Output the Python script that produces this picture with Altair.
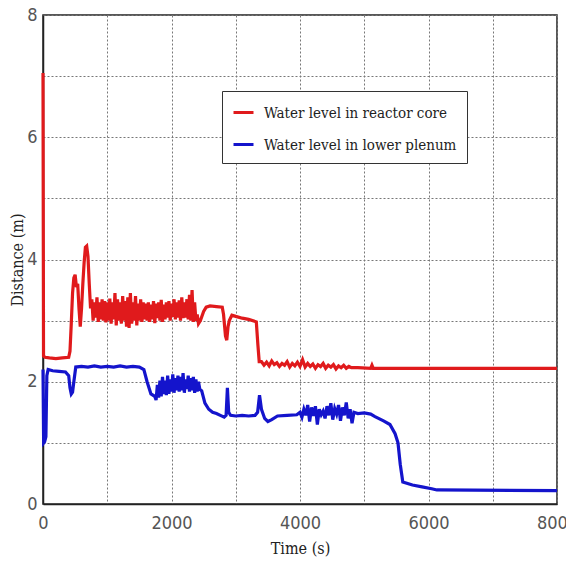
import altair as alt
import pandas as pd

# Water level in reactor core
core_time = [0, 8, 30, 100, 200, 300, 400, 420, 440, 460, 480, 500, 520, 540, 560, 580,
             600, 620, 640, 660, 680, 700, 720, 740,
             760, 780, 800, 820, 840, 860, 880, 900, 920, 940, 960, 980, 1000,
             1020, 1040, 1060, 1080, 1100, 1120, 1140, 1160, 1180, 1200, 1220, 1240, 1260, 1280, 1300,
             1320, 1340, 1360, 1380, 1400, 1420, 1440, 1460, 1480, 1500, 1520, 1540, 1560, 1580, 1600,
             1620, 1640, 1660, 1680, 1700, 1720, 1740, 1760, 1780, 1800, 1820, 1840, 1860, 1880, 1900,
             1920, 1940, 1960, 1980, 2000, 2020, 2040, 2060, 2080, 2100, 2120, 2140, 2160, 2180, 2200,
             2220, 2240, 2260, 2280, 2300, 2320, 2340, 2360, 2380, 2400,
             2420, 2450, 2500, 2540, 2600, 2700, 2790, 2810, 2840, 2860, 2880, 2900, 2940, 3000,
             3100, 3200, 3320, 3345, 3365,
             3400, 3440, 3480, 3520, 3560, 3600, 3640, 3680, 3720, 3760, 3800, 3840, 3880, 3920, 3960, 4000,
             4040, 4080, 4120, 4160, 4200, 4240, 4280, 4320, 4360, 4400, 4440, 4480, 4520, 4560, 4600,
             4640, 4680, 4720, 4760, 4800,
             4900, 5100, 5120, 5140, 8000]
core_level = [7.05, 2.42, 2.4, 2.39, 2.38, 2.39, 2.4, 2.5, 2.95, 3.45, 3.7, 3.75, 3.55, 3.6, 3.2, 2.9,
              3.2, 3.6, 3.95, 4.2, 4.22, 4.05, 3.6, 3.2,
              3.35, 3.0, 3.3, 3.05, 3.38, 2.98, 3.3, 3.02, 3.35, 3.0, 3.32, 2.97, 3.3,
              3.0, 3.36, 2.95, 3.3, 3.02, 3.45, 2.92, 3.35, 3.0, 3.3, 2.95, 3.4, 3.0, 3.32, 2.9,
              3.38, 2.88, 3.45, 2.95, 3.3, 3.0, 3.4, 2.92, 3.28, 3.0, 3.35, 2.98, 3.3, 3.02, 3.28,
              3.0, 3.3, 2.98, 3.26, 3.02, 3.32, 2.96, 3.28, 3.04, 3.3, 3.0, 3.34, 2.98, 3.26, 3.02,
              3.3, 3.05, 3.32, 3.0, 3.28, 3.06, 3.35, 3.02, 3.3, 3.05, 3.33, 3.0, 3.38, 3.04, 3.3,
              3.05, 3.35, 3.02, 3.42, 3.0, 3.5, 2.98, 3.3, 3.0, 3.1,
              2.95, 3.0, 3.15, 3.22, 3.24, 3.23, 3.22, 3.1, 2.75, 2.68, 2.9, 3.0, 3.09, 3.07,
              3.04, 3.02, 2.98, 2.6, 2.33,
              2.33, 2.27, 2.32, 2.26, 2.34, 2.28, 2.31, 2.25, 2.3, 2.27, 2.33, 2.24, 2.3, 2.26, 2.32, 2.25,
              2.36, 2.24, 2.3, 2.25, 2.29, 2.22, 2.28, 2.25, 2.3, 2.22, 2.27, 2.24, 2.28, 2.21, 2.26,
              2.23, 2.27, 2.22, 2.25, 2.23,
              2.23, 2.22, 2.27, 2.22, 2.22]

# Water level in lower plenum
plenum_time = [0, 10, 25, 45, 60, 80, 150, 250, 350, 400, 420, 440, 460, 480, 510, 600, 700, 800,
               900, 1000, 1100, 1200, 1300, 1400, 1500, 1570, 1620, 1680, 1740,
               1760, 1780, 1800, 1820, 1840, 1860, 1880, 1900, 1920, 1940, 1960, 1980, 2000, 2020,
               2040, 2060, 2080, 2100,
               2120, 2140, 2160, 2180, 2200, 2220, 2240, 2260, 2280, 2300, 2320, 2340, 2360, 2380,
               2400, 2420, 2440,
               2470, 2520, 2580, 2640, 2700, 2760, 2820, 2850, 2870, 2890, 2920, 3000, 3100, 3200,
               3300, 3340, 3370, 3400, 3450, 3500, 3560, 3650, 3800, 3950,
               4000, 4030, 4060, 4090, 4120, 4150, 4180, 4210, 4240, 4270, 4300, 4330, 4360, 4390,
               4420, 4450, 4480, 4510, 4540, 4570, 4600, 4630, 4660, 4690, 4720, 4750, 4780, 4810, 4840,
               4900, 5000, 5100, 5167, 5300, 5400, 5480, 5525, 5560, 5600, 5750, 5900, 6050, 6130, 8000]
plenum_level = [2.2, 1.0, 1.02, 1.1, 2.1, 2.2, 2.18, 2.17, 2.16, 2.1, 1.9, 1.8, 1.83, 2.0, 2.24, 2.25,
                2.24, 2.26, 2.24, 2.25, 2.24, 2.26, 2.24, 2.25, 2.24, 2.2, 2.0, 1.8, 1.76,
                1.7, 1.95, 1.74, 2.02, 1.76, 2.08, 1.8, 2.02, 1.78, 2.1, 1.8, 2.04, 1.84, 2.12,
                1.82, 2.06, 1.86, 2.1,
                1.84, 2.08, 1.86, 2.14, 1.82, 2.04, 1.88, 2.1, 1.84, 2.06, 1.86, 2.08, 1.82, 2.04,
                1.84, 2.0, 1.88,
                1.85, 1.65, 1.55, 1.5, 1.48, 1.45, 1.42, 1.45, 1.9, 1.5, 1.45, 1.44, 1.45, 1.44,
                1.45, 1.5, 1.78, 1.55, 1.4, 1.35, 1.38, 1.44, 1.45, 1.46,
                1.5, 1.42, 1.55, 1.45, 1.62, 1.35, 1.58, 1.44, 1.6, 1.3, 1.55, 1.46, 1.52, 1.4,
                1.6, 1.45, 1.65, 1.38, 1.56, 1.47, 1.62, 1.36, 1.58, 1.45, 1.66, 1.4, 1.55, 1.32, 1.5,
                1.48, 1.49, 1.47, 1.43, 1.36, 1.3, 1.15, 1.0, 0.65, 0.36, 0.31, 0.28, 0.25, 0.23, 0.22]

series_names = ["Water level in reactor core", "Water level in lower plenum"]
series_colors = ["#e01a1c", "#1414cc"]

x_ticks = [0, 1000, 2000, 3000, 4000, 5000, 6000, 7000, 8000]
y_ticks = [0, 1, 2, 3, 4, 5, 6, 7, 8]

rows = []
for i, (t, v) in enumerate(zip(core_time, core_level)):
    rows.append({"Time": t, "Level": v, "Series": series_names[0], "idx": i})
for i, (t, v) in enumerate(zip(plenum_time, plenum_level)):
    rows.append({"Time": t, "Level": v, "Series": series_names[1], "idx": i})
df = pd.DataFrame(rows)

label_font = "Liberation Sans Narrow, DejaVu Sans Condensed, Liberation Sans, sans-serif"
title_font = "DejaVu Serif Condensed, DejaVu Serif, serif"

chart = alt.Chart(df).mark_line(strokeWidth=3.2).encode(
    x=alt.X("Time:Q", scale=alt.Scale(domain=[0, 8000], nice=False),
            axis=alt.Axis(title="Time (s)", values=x_ticks,
                          labelExpr="datum.value % 2000 == 0 ? datum.label : ''",
                          format="d", ticks=False, labelPadding=10, titlePadding=8,
                          labelFlush=False, labelOverlap=False)),
    y=alt.Y("Level:Q", scale=alt.Scale(domain=[0, 8], nice=False),
            axis=alt.Axis(title="Distance (m)", values=y_ticks,
                          labelExpr="datum.value % 2 == 0 ? datum.label : ''",
                          ticks=False, labelPadding=6, titlePadding=1,
                          labelFlush=False, labelOverlap=False)),
    color=alt.Color("Series:N", scale=alt.Scale(domain=series_names, range=series_colors),
                    legend=alt.Legend(title=None, orient="none", legendX=179, legendY=76,
                                      symbolType="stroke", symbolSize=400, symbolStrokeWidth=3,
                                      labelFont=title_font, labelFontSize=15, labelColor="#222",
                                      labelOffset=9, rowPadding=12, padding=10,
                                      strokeColor="#333", fillColor="white",
                                      labelLimit=400)),
    order="idx:Q",
).properties(
    width=514, height=489,
    autosize=alt.AutoSizeParams(type="none"),
    padding={"left": 43, "top": 15, "right": 9, "bottom": 67},
).configure_view(
    stroke="#222", strokeWidth=1.5
).configure_axis(
    grid=True, gridColor="#777", gridDash=[2, 2], gridWidth=1,
    domainColor="#222", domainWidth=1.5,
    labelFont=label_font, labelFontSize=18, labelColor="#555",
    titleFont=title_font, titleFontSize=16, titleFontWeight="normal", titleColor="#222",
)

chart.save("out.html", embed_options={"renderer": "svg", "actions": False})
